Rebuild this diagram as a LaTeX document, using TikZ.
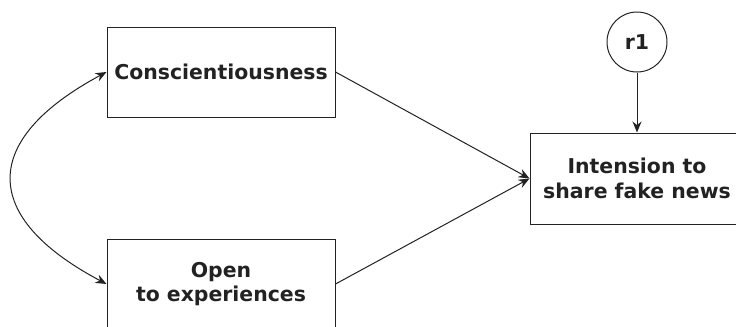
\documentclass[tikz,border=0pt]{standalone}
\usepackage{fontspec}
\setmainfont{DejaVu Sans}
\usetikzlibrary{arrows.meta}
\definecolor{ink}{HTML}{222222}
\tikzset{
  box/.style={draw=ink, line width=1bp, fill=white, inner sep=0pt, align=center,
    font=\fontsize{20.5}{25}\selectfont\bfseries, text=ink},
  circ/.style={draw=ink, line width=1bp, circle, minimum size=60bp, inner sep=0pt,
    font=\fontsize{20.5}{25}\selectfont\bfseries, text=ink},
  conn/.style={draw=ink, line width=1bp, -{Stealth[length=11bp,width=9bp]}},
  biconn/.style={draw=ink, line width=1bp, {Stealth[length=11bp,width=9bp]}-{Stealth[length=11bp,width=9bp]}}
}
\begin{document}
\begin{tikzpicture}[x=1bp,y=-1bp]
\useasboundingbox (0,0) rectangle (736,326);
\clip (0,0) rectangle (736,326);
\node[box, minimum width=228bp, minimum height=90bp] (con) at (221,72) {Conscientiousness};
\node[box, minimum width=228bp, minimum height=90bp] (ope) at (221,284) {Open\\to experiences};
\node[box, minimum width=214bp, minimum height=91bp] (int) at (637,178.5) {Intension to\\share fake news};
\node[circ] (r1) at (637,42) {r1};
\draw[conn] (con.east) -- (int.west);
\draw[conn] (ope.east) -- (int.west);
\draw[conn] (r1.south) -- (int.north);
\draw[biconn] (ope.west) .. controls (-20,217) and (-20,140) .. (con.west);
\end{tikzpicture}
\end{document}
